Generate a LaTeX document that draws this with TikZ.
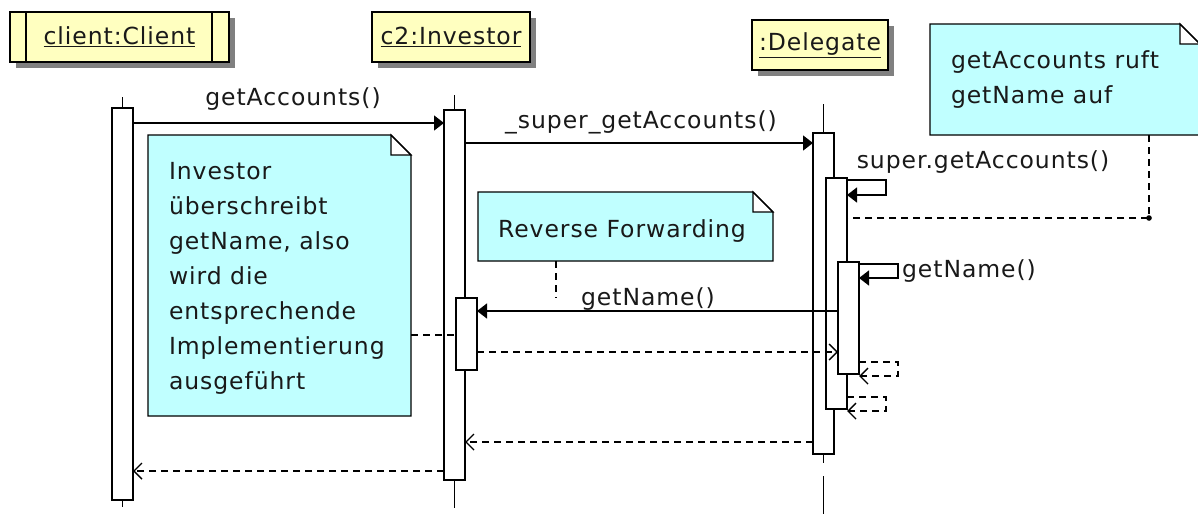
\documentclass[tikz,border=0pt]{standalone}
\usepackage{fontspec}
\setmainfont[LetterSpace=4]{DejaVu Sans}
\usetikzlibrary{arrows.meta,shadows}
\definecolor{notecyan}{RGB}{192,255,255}
\definecolor{headyellow}{RGB}{255,255,192}
\definecolor{shadowgray}{RGB}{128,128,128}
\definecolor{ink}{RGB}{25,25,25}

% note with a folded top-right corner, drawn around an empty node
\newcommand\dogear[1]{%
  \fill[notecyan] (#1.north west) -- ([xshift=-20pt]#1.north east) -- ([yshift=-20pt]#1.north east)
    -- (#1.south east) -- (#1.south west) -- cycle;
  \draw[notebord, fill=white] ([xshift=-20pt]#1.north east) -- ([xshift=-20pt,yshift=-20pt]#1.north east)
    -- ([yshift=-20pt]#1.north east) -- cycle;
  \draw[notebord] (#1.north west) -- ([xshift=-20pt]#1.north east) -- ([yshift=-20pt]#1.north east)
    -- (#1.south east) -- (#1.south west) -- cycle;
}

\begin{document}
\begin{tikzpicture}[x=1pt,y=-1pt,line width=1.4pt,
  txt/.style={text=ink,font=\fontsize{23.5}{35}\selectfont,inner sep=0pt,outer sep=0pt},
  lbl/.style={txt,anchor=base},
  head/.style={draw,fill=headyellow,inner sep=0pt,outer sep=0pt,anchor=north west,
    drop shadow={shadow xshift=6pt,shadow yshift=-6pt,fill=shadowgray,opacity=1},
    text=ink,font=\fontsize{23.5}{26}\selectfont},
  act/.style={draw,fill=white,minimum width=21pt,inner sep=0pt,outer sep=0pt,anchor=north west},
  notebox/.style={inner sep=0pt,outer sep=0pt,anchor=north west},
  notebord/.style={line width=1.2pt},
  msg/.style={-{Triangle[length=10pt,width=15pt]}},
  ret/.style={dash pattern=on 7pt off 5pt,-{Straight Barb[length=8pt,width=16pt]}},
  anchorline/.style={dash pattern=on 7pt off 5pt},
]
\useasboundingbox (0,0) rectangle (1198,514);
\clip (0,0) rectangle (1198,514);

% object heads
\node[head,minimum width=219pt,minimum height=50pt] (hC) at (10,12) {\underline{client:Client}};
\draw ([xshift=16pt]hC.north west) -- ([xshift=16pt]hC.south west);
\draw ([xshift=-17pt]hC.north east) -- ([xshift=-17pt]hC.south east);
\node[head,minimum width=158pt,minimum height=50pt] (hI) at (372,12) {\underline{c2:Investor}};
\node[head,minimum width=136pt,minimum height=50pt] (hD) at (752,20) {\underline{:Delegate}};

% lifeline ends
\coordinate (cTop) at (122.5,97);  \coordinate (cBot) at (122.5,507);
\coordinate (iTop) at (454.5,95);  \coordinate (iBot) at (454.5,508);
\coordinate (dTop) at (823.5,104); \coordinate (dMid) at (823.5,463);
\coordinate (dLow) at (823.5,476); \coordinate (dBot) at (823.5,514);

% activations
\node[act,minimum height=392pt] (cA) at (112,108) {};
\node[act,minimum height=370pt] (iA) at (444,110) {};
\node[act,minimum height=72pt]  (iB) at (456,298) {};
\node[act,minimum height=321pt] (dA) at (813,133) {};
\node[act,minimum height=231pt] (dB) at (826,178) {};
\node[act,minimum height=112pt] (dC) at (838,262) {};

\draw (cTop) -- (cA.north) (cA.south) -- (cBot);
\draw (iTop) -- (iA.north) (iA.south) -- (iBot);
\draw (dTop) -- (dA.north) (dA.south) -- (dMid) (dLow) -- (dBot);

% notes
\node[notebox,minimum width=263pt,minimum height=281pt] (n1) at (148,135) {};
\dogear{n1}
\node[txt,align=left,anchor=north west] (t1) at (169,162) {Investor\\überschreibt\\getName, also\\wird die\\entsprechende\\Implementierung\\ausgeführt};
\node[notebox,minimum width=295pt,minimum height=69pt] (n2) at (478,192) {};
\dogear{n2}
\node[lbl] (t2) at (622,237) {Reverse Forwarding};
\node[notebox,minimum width=270pt,minimum height=111pt] (n3) at (930,24) {};
\dogear{n3}
\node[txt,align=left,anchor=north west] (t3) at (951,51) {getAccounts ruft\\getName auf};

% note anchors
\coordinate (n2end) at (556,298);
\coordinate (n3knee) at (1149,218);
\draw[anchorline] (n1.east |- 0,335) -- (iB.west |- 0,335);
\draw[anchorline] (n2.south -| n2end) -- (n2end);
\draw[anchorline] (n3.south -| n3knee) -- (n3knee) -- (dB.east |- n3knee);
\fill (n3knee) circle (2.8pt);

% messages
\draw[msg] (cA.east |- 0,123) -- (iA.west |- 0,123);
\node[lbl] (m1) at (293,105) {getAccounts()};
\draw[msg] (iA.east |- 0,143) -- (dA.west |- 0,143);
\node[lbl] (m2) at (641,128) {\_super\_getAccounts()};
\draw[msg] (dB.east |- 0,180) -- (886,180) -- (886,195) -- (dB.east |- 0,195);
\node[lbl] (m3) at (983,168) {super.getAccounts()};
\draw[msg] (dC.east |- 0,264) -- (898,264) -- (898,278) -- (dC.east |- 0,278);
\node[lbl] (m4) at (969,277) {getName()};
\draw[msg] (dC.west |- 0,311) -- (iB.east |- 0,311);
\node[lbl] (m5) at (648,305) {getName()};

% returns
\draw[ret] (iB.east |- 0,352) -- (dC.west |- 0,352);
\draw[ret] (dC.east |- 0,362) -- (898,362) -- (898,376) -- (dC.east |- 0,376);
\draw[ret] (dB.east |- 0,397) -- (886,397) -- (886,411) -- (dB.east |- 0,411);
\draw[ret] (dA.west |- 0,442) -- (iA.east |- 0,442);
\draw[ret] (iA.west |- 0,471) -- (cA.east |- 0,471);
\end{tikzpicture}
\end{document}
